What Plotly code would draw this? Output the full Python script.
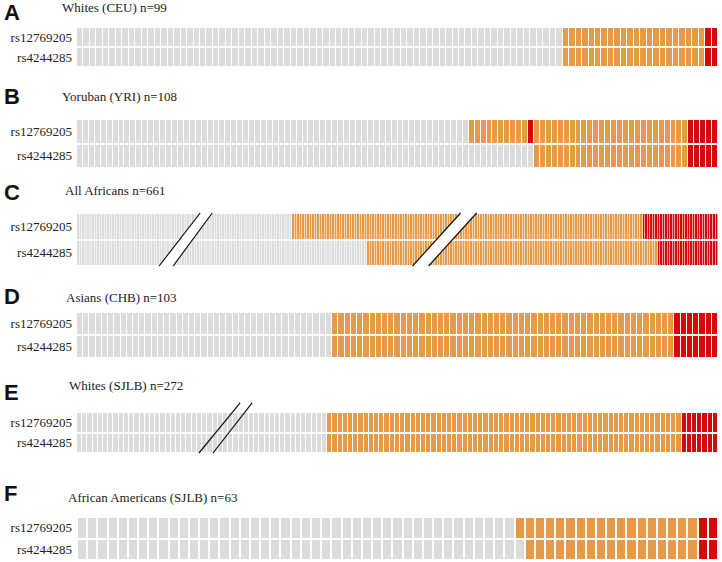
import numpy as np
import plotly.graph_objects as go

# ---------------- data (run-length: genotype code, number of individuals shown) ----------
# genotype codes: 0 = no variant allele, 1 = heterozygous, 2 = homozygous variant
SNPS = ["rs12769205", "rs4244285"]
PANEL_LETTERS = ["A", "B", "C", "D", "E", "F"]
PANEL_TITLES = ["Whites (CEU) n=99", "Yoruban (YRI) n=108", "All Africans n=661",
                "Asians (CHB) n=103", "Whites (SJLB) n=272", "African Americans (SJLB) n=63"]

A_rs12769205 = [(0, 75), (1, 22), (2, 2)]
A_rs4244285 = [(0, 75), (1, 22), (2, 2)]
B_rs12769205 = [(0, 66), (1, 10), (2, 1), (1, 26), (2, 5)]
B_rs4244285 = [(0, 77), (1, 26), (2, 5)]
C_rs12769205 = [(0, 86), (1, 140), (2, 30)]
C_rs4244285 = [(0, 116), (1, 116), (2, 24)]
D_rs12769205 = [(0, 41), (1, 55), (2, 7)]
D_rs4244285 = [(0, 41), (1, 55), (2, 7)]
E_rs12769205 = [(0, 48), (1, 68), (2, 7)]
E_rs4244285 = [(0, 48), (1, 68), (2, 7)]
F_rs12769205 = [(0, 43), (1, 18), (2, 2)]
F_rs4244285 = [(0, 44), (1, 17), (2, 2)]

PANEL_RUNS = [(A_rs12769205, A_rs4244285), (B_rs12769205, B_rs4244285),
              (C_rs12769205, C_rs4244285), (D_rs12769205, D_rs4244285),
              (E_rs12769205, E_rs4244285), (F_rs12769205, F_rs4244285)]

# axis breaks (in cell units): (bottom-left, top-left, top-right, bottom-right, top y in domain, fill)
C_BREAKS = [(32.3, 48.7, 53.5, 37.9, 1.0, True), (133.5, 152.7, 159.1, 139.9, 1.0, True)]
E_BREAKS = [(22.9, 30.8, 33.1, 25.6, 1.22, False)]
PANEL_BREAKS = {2: C_BREAKS, 4: E_BREAKS}

# ---------------- styling / layout ----------------
W, H = 722, 562
GRAY, ORANGE, RED = "#dcdcdc", "#e59a47", "#d40a0a"
X0, X1 = 77, 718
ROW_PX = [(27, 67), (119, 168), (213, 266), (312, 358), (412, 453), (517, 560)]
TITLE_PX = [(60, 7), (60, 96), (63, 191), (64, 297), (67, 385), (66, 497)]
LETTER_PX = [(2, 12), (2, 97), (2, 192), (2, 296), (2, 392), (2, 494)]
XGAPS = [1, 1, 0.6, 1, 1, 2]


def px_x(v):
    return v / W


def px_y(v):
    return 1 - v / H


def expand(runs):
    return np.concatenate([np.full(n, code) for code, n in runs])


fig = go.Figure()
colorscale = [[0, GRAY], [0.25, GRAY], [0.25, ORANGE], [0.75, ORANGE], [0.75, RED], [1, RED]]

for i, (r1, r2) in enumerate(PANEL_RUNS):
    z1, z2 = expand(r1), expand(r2)
    n = len(z1)
    xa = "x" if i == 0 else f"x{i+1}"
    ya = "y" if i == 0 else f"y{i+1}"
    fig.add_trace(go.Heatmap(
        z=[z1, z2], y=SNPS, x=np.arange(n),
        zmin=0, zmax=2, colorscale=colorscale, showscale=False,
        xgap=XGAPS[i], ygap=2, xaxis=xa, yaxis=ya, hoverinfo="skip"))
    top, bot = ROW_PX[i]
    axsuffix = "" if i == 0 else str(i + 1)
    fig.layout["xaxis" + axsuffix] = dict(
        domain=[px_x(X0), min(1, px_x(X1))], range=[-0.5, n - 0.5], showgrid=False,
        zeroline=False, showticklabels=False, ticks="", anchor=ya, fixedrange=True,
        automargin=False)
    fig.layout["yaxis" + axsuffix] = dict(
        domain=[px_y(bot), px_y(top)], autorange="reversed", showgrid=False,
        zeroline=False, ticks="", ticklabelstandoff=4, anchor=xa, automargin=False,
        fixedrange=True, tickfont=dict(family="Liberation Serif", size=13, color="#222"))
    # titles and letters
    tx, ty = TITLE_PX[i]
    fig.add_annotation(x=px_x(tx), y=px_y(ty), xref="paper", yref="paper", text=PANEL_TITLES[i],
                       showarrow=False, xanchor="left", yanchor="middle",
                       font=dict(family="Liberation Serif", size=13, color="#222"))
    lx, ly = LETTER_PX[i]
    fig.add_annotation(x=px_x(lx), y=px_y(ly), xref="paper", yref="paper",
                       text="<b>" + PANEL_LETTERS[i] + "</b>",
                       showarrow=False, xanchor="left", yanchor="middle",
                       font=dict(family="Liberation Sans", size=22, color="#111"))
    # axis breaks
    for (bl, tl, tr, br, ytop, fill) in PANEL_BREAKS.get(i, []):
        if fill:
            fig.add_shape(type="path", xref=xa, yref=ya + " domain",
                          path=f"M {bl},0 L {tl},{ytop} L {tr},{ytop} L {br},0 Z",
                          fillcolor="white", line=dict(width=0))
        for (xb, xt) in [(bl, tl), (br, tr)]:
            fig.add_shape(type="line", xref=xa, yref=ya + " domain",
                          x0=xb, y0=0, x1=xt, y1=ytop, line=dict(color="#111", width=1.2))

fig.update_layout(width=W, height=H, margin=dict(l=0, r=0, t=0, b=0),
                  paper_bgcolor="white", plot_bgcolor="white", showlegend=False)
fig.write_html("out.html", config={"displayModeBar": False},
               post_script="document.body.style.margin='0';document.body.style.overflow='hidden';")
